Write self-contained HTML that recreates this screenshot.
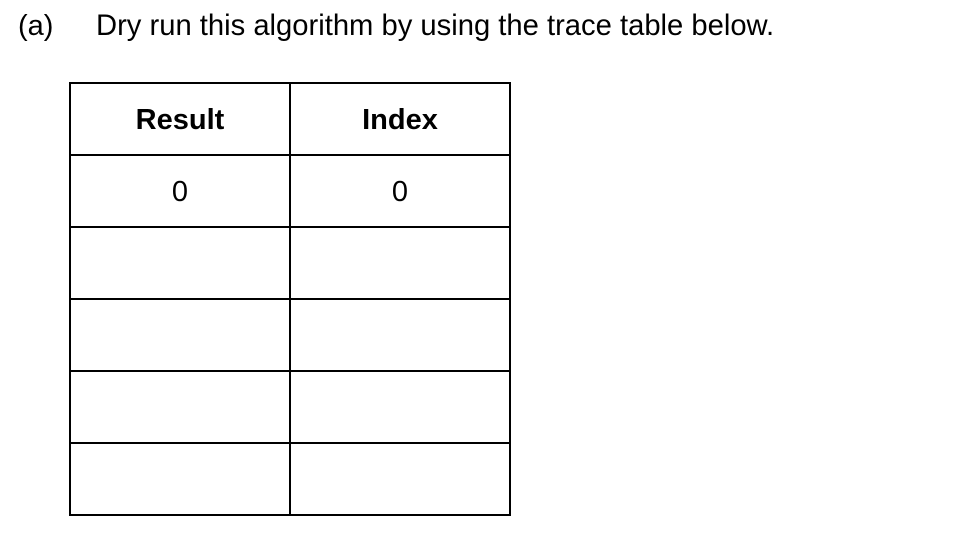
<!DOCTYPE html>
<html><head><meta charset="utf-8"><style>
body{margin:0;width:974px;height:544px;background:#fff;position:relative;overflow:hidden;font-family:"Liberation Sans",Arial,sans-serif;color:#000}
.t{position:absolute;white-space:nowrap}
.h{position:absolute;background:#000}
.cell{position:absolute;width:220px;text-align:center;font-size:29px}
</style></head><body>
<div class="t" style="left:18px;top:10px;font-size:29px">(a)</div>
<div class="t" style="left:96px;top:10px;font-size:29.2px">Dry run this algorithm by using the trace table below.</div>
<div>
<div class="h" style="left:69px;top:82px;width:442px;height:2px"></div>
<div class="h" style="left:69px;top:154px;width:442px;height:2px"></div>
<div class="h" style="left:69px;top:226px;width:442px;height:2px"></div>
<div class="h" style="left:69px;top:298px;width:442px;height:2px"></div>
<div class="h" style="left:69px;top:370px;width:442px;height:2px"></div>
<div class="h" style="left:69px;top:442px;width:442px;height:2px"></div>
<div class="h" style="left:69px;top:514px;width:442px;height:2px"></div>
<div class="h" style="left:69px;top:82px;width:2px;height:434px"></div>
<div class="h" style="left:289px;top:82px;width:2px;height:434px"></div>
<div class="h" style="left:509px;top:82px;width:2px;height:434px"></div>
<div class="cell" style="left:70px;top:104px;font-weight:bold">Result</div>
<div class="cell" style="left:290px;top:104px;font-weight:bold">Index</div>
<div class="cell" style="left:70px;top:176px">0</div>
<div class="cell" style="left:290px;top:176px">0</div>
</div>
</body></html>
